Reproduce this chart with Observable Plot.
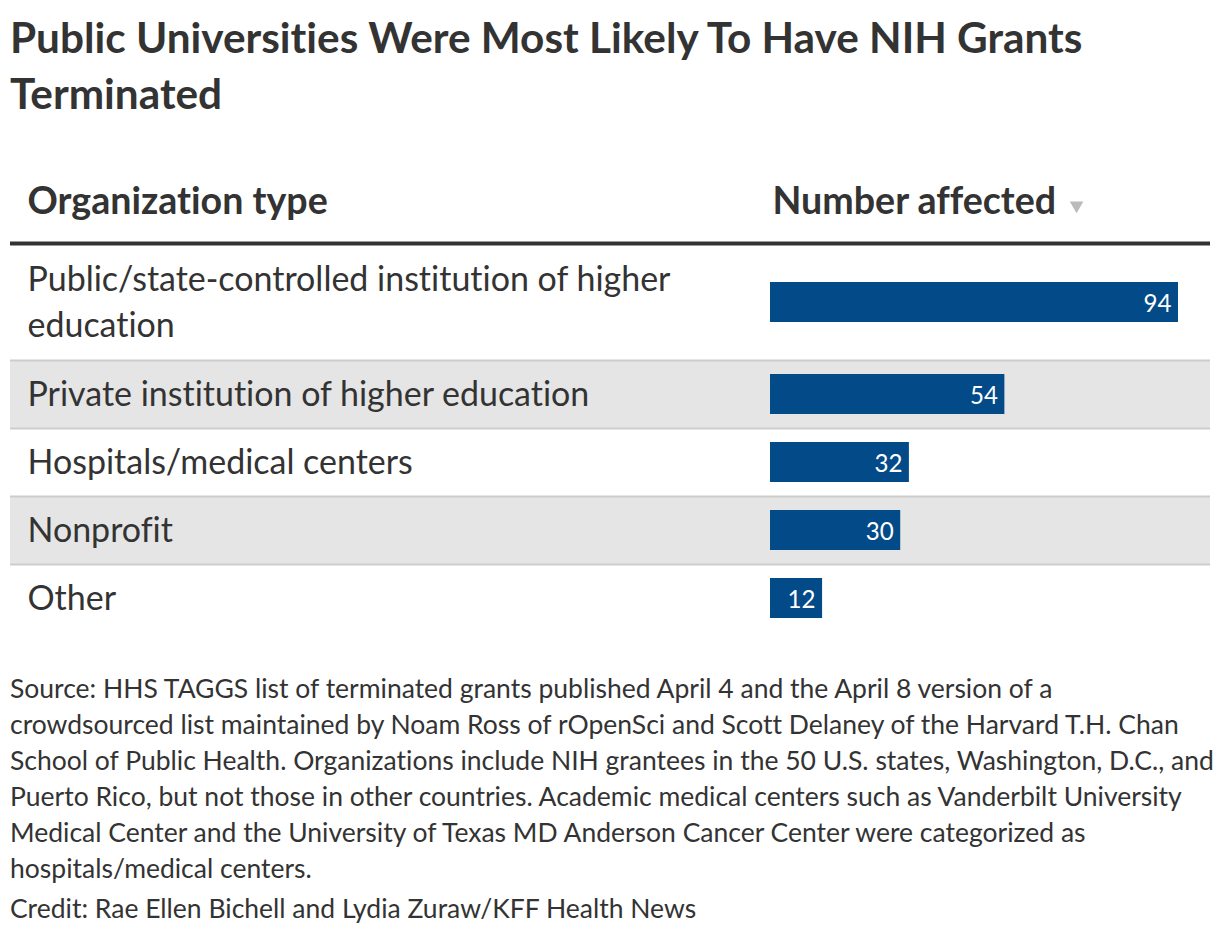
<!DOCTYPE html>
<html><head><meta charset="utf-8">
<script src="https://cdn.jsdelivr.net/npm/d3@7"></script>
<script src="https://cdn.jsdelivr.net/npm/@observablehq/plot@0.6"></script>
<style>
body{margin:0;background:#fff;font-family:Lato,"Noto Sans",sans-serif;color:#333;width:1220px;height:936px;overflow:hidden;font-variant-ligatures:none;font-feature-settings:"liga" 0}
svg text{font-variant-ligatures:none;font-feature-settings:"liga" 0}
#title{position:absolute;left:10px;margin:0;font-weight:700;line-height:56px;white-space:nowrap;color:#333}
#chart{position:absolute;left:0;top:160px}
#foot{position:absolute;left:10px;line-height:36px;white-space:nowrap;color:#333}
#credit{margin-top:4px}
</style></head><body>
<h1 id="title"></h1><div id="chart"></div><div id="foot"><div id="source"></div><div id="credit"></div></div>
<script>
const titleLines = ["Public Universities Were Most Likely To Have NIH Grants", "Terminated"];
const headers = ["Organization type", "Number affected"];
const categories = [
  "Public/state-controlled institution of higher\neducation",
  "Private institution of higher education",
  "Hospitals/medical centers",
  "Nonprofit",
  "Other"
];
const values = [94, 54, 32, 30, 12];
const sourceLines = [
  "Source: HHS TAGGS list of terminated grants published April 4 and the April 8 version of a",
  "crowdsourced list maintained by Noam Ross of rOpenSci and Scott Delaney of the Harvard T.H. Chan",
  "School of Public Health. Organizations include NIH grantees in the 50 U.S. states, Washington, D.C., and",
  "Puerto Rico, but not those in other countries. Academic medical centers such as Vanderbilt University",
  "Medical Center and the University of Texas MD Anderson Cancer Center were categorized as",
  "hospitals/medical centers."
];
const credit = "Credit: Rae Ellen Bichell and Lydia Zuraw/KFF Health News";

const FAMILY = "Lato";
const ctx = document.createElement("canvas").getContext("2d");
function measure(text, weight, size) { ctx.font = `${weight} ${size}px ${FAMILY}`; return ctx.measureText(text).width; }
function fit(text, weight, target) { return 100 * target / measure(text, weight, 100); }

const titleSize = fit(titleLines[0], 700, 1076);
const headSize = fit(headers[0], 700, 301);
const rowSize = fit(categories[1], 400, 565);
const labelSize = fit("94", 400, 28);
const footSize = fit(sourceLines[3], 400, 1175);

// title
const t = document.getElementById("title");
t.style.fontSize = titleSize + "px";
t.style.top = (53 - (28 + 0.387 * titleSize)) + "px";
titleLines.forEach((l, i) => { if (i) t.appendChild(document.createElement("br")); t.appendChild(document.createTextNode(l)); });

// footer
const f = document.getElementById("foot");
f.style.fontSize = footSize + "px";
f.style.top = (698 - (18 + 0.387 * footSize)) + "px";
const s = document.getElementById("source");
sourceLines.forEach((l, i) => { if (i) s.appendChild(document.createElement("br")); s.appendChild(document.createTextNode(l)); });
document.getElementById("credit").textContent = credit;

// rows layout in "line" units
const LINE = 48, pad = 20 / 48, barHalf = 20 / 48;
let acc = 0;
const rows = categories.map((c, i) => {
  const lines = c.split("\n").length;
  const top = acc; acc += lines + pad;
  return {category: c, value: values[i], top, bottom: acc, mid: (top + acc) / 2, i};
});
const total = acc;
const headW = measure(headers[1], 700, headSize);

const chart = Plot.plot({
  width: 1220, height: 480,
  marginLeft: 10, marginRight: 10, marginTop: 0, marginBottom: 0,
  x: {domain: [0, d3.max(values)], range: [770, 1178], axis: null},
  y: {domain: [0, total], range: [84, 84 + total * LINE], axis: null},
  style: {fontFamily: FAMILY, color: "#333", background: "white", overflow: "visible"},
  marks: [
    Plot.rect(rows.filter(d => d.i % 2 === 1), {y1: "top", y2: "bottom", fill: "#e5e5e5"}),
    Plot.ruleY(rows.slice(0, -1), {y: "bottom", stroke: "#cdcdcd", strokeWidth: 2}),
    Plot.ruleY([0], {stroke: "#333", strokeWidth: 4, dy: -1}),
    Plot.rect(rows, {x1: 0, x2: "value", y1: d => d.mid - barHalf, y2: d => d.mid + barHalf, fill: "#024b88"}),
    Plot.text(rows, {x: "value", y: "mid", text: d => String(d.value), textAnchor: "end", dx: -7, dy: 2, fill: "white", fontSize: labelSize}),
    Plot.text(rows, {y: "mid", text: "category", frameAnchor: "left", textAnchor: "start", dx: 17, dy: -3, fontSize: rowSize, lineHeight: 46 / rowSize, fill: "#333"}),
    Plot.text([headers[0]], {frameAnchor: "top-left", lineAnchor: "middle", textAnchor: "start", dx: 17, dy: 41, fontWeight: 700, fontSize: headSize, fill: "#333"}),
    Plot.text([headers[1]], {x: 0, frameAnchor: "top", lineAnchor: "middle", textAnchor: "start", dx: 2, dy: 41, fontWeight: 700, fontSize: headSize, fill: "#333"}),
    Plot.dot([headers[1]], {x: 0, frameAnchor: "top", dx: 2 + headW + 21, dy: 45, symbol: "triangle2", rotate: 180, r: 6.5, fill: "#bbb", stroke: null})
  ]
});
document.getElementById("chart").appendChild(chart);
</script>
</body></html>
